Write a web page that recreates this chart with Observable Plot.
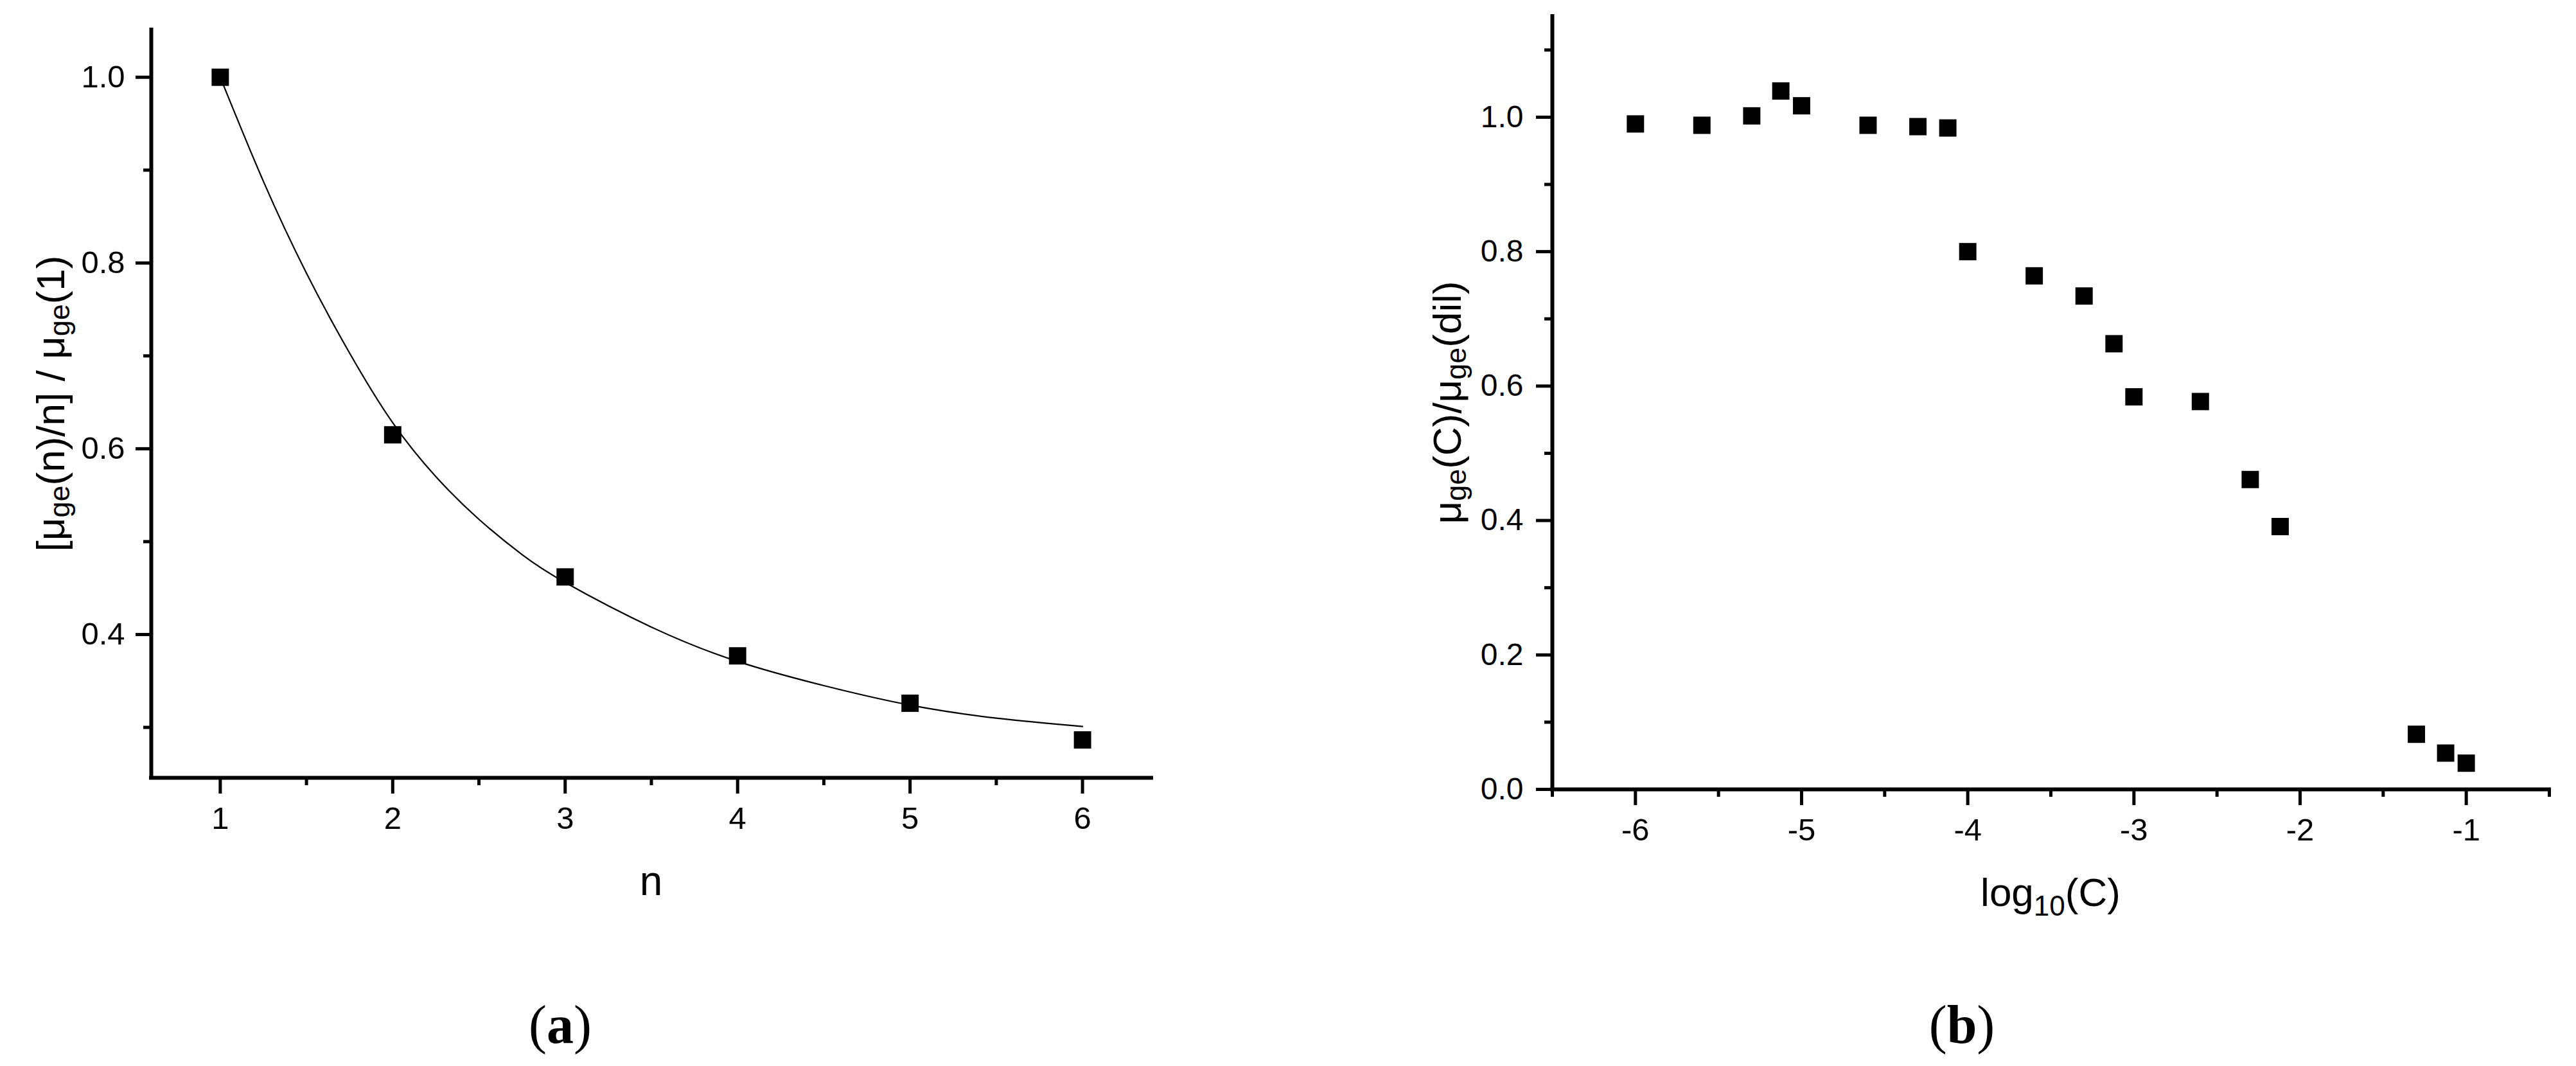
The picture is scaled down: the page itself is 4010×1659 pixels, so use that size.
<!DOCTYPE html>
<html><head><meta charset="utf-8">
<script src="https://cdn.jsdelivr.net/npm/d3@7"></script>
<script src="https://cdn.jsdelivr.net/npm/@observablehq/plot@0.6"></script>
<style>
body{margin:0;background:#fff;}
#wrap{position:relative;width:4010px;height:1659px;background:#fff;}
.panel{position:absolute;top:0;}
.cap{position:absolute;top:1553px;width:400px;text-align:center;font-family:"Liberation Serif","Times New Roman",serif;font-size:84px;line-height:84px;color:#000;}
.cap b{font-weight:bold;}
</style></head><body>
<div id="wrap">
  <div id="left" class="panel" style="left:0px"></div>
  <div id="right" class="panel" style="left:2000px"></div>
  <div class="cap" style="left:672px">(<b>a</b>)</div>
  <div class="cap" style="left:2854px">(<b>b</b>)</div>
</div>
<script>
// ---- Panel (a) data ----
const nValues = [1, 2, 3, 4, 5, 6];
const ratioN = [1.0, 0.615, 0.462, 0.377, 0.326, 0.2865];
// fitted curve
const fitN = [1, 1.25, 1.5, 1.75, 2, 2.25, 2.5, 2.75, 3, 3.5, 4, 4.5, 5, 5.5, 6];
const fitRatio = [1.0, 0.888, 0.789, 0.703, 0.628, 0.570, 0.524, 0.486, 0.456, 0.408, 0.371, 0.345, 0.324, 0.310, 0.301];
const ticksNMajor = [1, 2, 3, 4, 5, 6];
const ticksNMinor = [1.5, 2.5, 3.5, 4.5, 5.5];
const ticksRatioMajor = [0.4, 0.6, 0.8, 1.0];
const ticksRatioMinor = [0.3, 0.5, 0.7, 0.9];

// ---- Panel (b) data ----
const logC = [-6, -5.6, -5.3, -5.125, -5, -4.6, -4.3, -4.12, -4, -3.6, -3.3, -3.12, -3, -2.6, -2.3, -2.12, -1.3, -1.124, -1];
const ratioC = [0.990, 0.988, 1.002, 1.039, 1.017, 0.988, 0.986, 0.984, 0.800, 0.764, 0.734, 0.663, 0.584, 0.577, 0.461, 0.391, 0.082, 0.054, 0.039];
const ticksCMajor = [-6, -5, -4, -3, -2, -1];
const ticksCMinor = [-6.5, -5.5, -4.5, -3.5, -2.5, -1.5, -0.5];
const ticksRCMajor = [0, 0.2, 0.4, 0.6, 0.8, 1.0];
const ticksRCMinor = [0.1, 0.3, 0.5, 0.7, 0.9, 1.1];

const SANS = "'Liberation Sans', Arial, sans-serif";
const points = nValues.map((n, i) => ({n, r: ratioN[i]}));
const fit = fitN.map((n, i) => ({n, r: fitRatio[i]}));
const pointsC = logC.map((c, i) => ({c, r: ratioC[i]}));

function addTitle(svg, x, y, rotate, parts, size, subSize, subShift) {
  const t = d3.select(svg).append("text")
    .attr("transform", `translate(${x},${y}) rotate(${rotate})`)
    .attr("text-anchor", "middle")
    .attr("font-family", SANS)
    .attr("font-size", size)
    .attr("fill", "black");
  let cur = 0;
  for (const [s, sub] of parts) {
    const target = sub ? subShift : 0;
    const ts = t.append("tspan").text(s).attr("dy", target - cur);
    if (sub) ts.attr("font-size", subSize);
    cur = target;
  }
}

// ---- Panel (a) ----
{
  const W = 1900, H = 1450, mL = 235, mR = 108, mT = 46, mB = 240;
  const xd = [0.6, 6.4], yd = [0.2457, 1.051];
  const svg = Plot.plot({
    width: W, height: H,
    marginLeft: mL, marginRight: mR, marginTop: mT, marginBottom: mB,
    style: {fontFamily: SANS, fontSize: "49px", color: "black", background: "white", overflow: "visible"},
    x: {domain: xd, label: null},
    y: {domain: yd, label: null},
    marks: [
      Plot.ruleX([xd[0]], {stroke: "black", strokeWidth: 6, strokeLinecap: "square"}),
      Plot.ruleY([yd[0]], {stroke: "black", strokeWidth: 6, strokeLinecap: "square"}),
      Plot.axisX({ticks: ticksNMajor, tickSize: 25, tickPadding: 20, strokeWidth: 5, tickFormat: d => String(d), label: null, fontSize: 49}),
      Plot.axisX({ticks: ticksNMinor, tickSize: 12, strokeWidth: 5, tickFormat: () => "", label: null}),
      Plot.axisY({ticks: ticksRatioMajor, tickSize: 24, tickPadding: 17, strokeWidth: 5, tickFormat: d3.format(".1f"), label: null, fontSize: 49}),
      Plot.axisY({ticks: ticksRatioMinor, tickSize: 12, strokeWidth: 5, tickFormat: () => "", label: null}),
      Plot.line(fit, {x: "n", y: "r", stroke: "black", strokeWidth: 2.2, curve: "natural"}),
      Plot.dot(points, {x: "n", y: "r", symbol: "square", r: 15.2, fill: "black", stroke: "none"})
    ]
  });
  const cx = (mL + (W - mR)) / 2, cy = (mT + (H - mB)) / 2;
  addTitle(svg, 100, cy, -90, [["[μ"], ["ge", true], ["(n)/n] / μ"], ["ge", true], ["(1)"]], 62, 45, 8);
  addTitle(svg, cx, 1393, 0, [["n"]], 64, 45, 8);
  document.getElementById("left").appendChild(svg);
}

// ---- Panel (b) ----
{
  const W = 2010, H = 1450, mL = 416, mR = 42, mT = 25, mB = 222;
  const xd = [-6.5, -0.5], yd = [0, 1.15];
  const svg = Plot.plot({
    width: W, height: H,
    marginLeft: mL, marginRight: mR, marginTop: mT, marginBottom: mB,
    style: {fontFamily: SANS, fontSize: "48px", color: "black", background: "white", overflow: "visible"},
    x: {domain: xd, label: null},
    y: {domain: yd, label: null},
    marks: [
      Plot.ruleX([xd[0]], {stroke: "black", strokeWidth: 6, strokeLinecap: "square"}),
      Plot.ruleY([yd[0]], {stroke: "black", strokeWidth: 6, strokeLinecap: "square"}),
      Plot.axisX({ticks: ticksCMajor, tickSize: 25, tickPadding: 20, strokeWidth: 5, tickFormat: d => String(d), label: null, fontSize: 49}),
      Plot.axisX({ticks: ticksCMinor, tickSize: 12, strokeWidth: 5, tickFormat: () => "", label: null}),
      Plot.axisY({ticks: ticksRCMajor, tickSize: 25, tickPadding: 20, strokeWidth: 5, tickFormat: d3.format(".1f"), label: null, fontSize: 48}),
      Plot.axisY({ticks: ticksRCMinor, tickSize: 12, strokeWidth: 5, tickFormat: () => "", label: null}),
      Plot.dot(pointsC, {x: "c", y: "r", symbol: "square", r: 15.2, fill: "black", stroke: "none"})
    ]
  });
  const cx = (mL + (W - mR)) / 2, cy = (mT + (H - mB)) / 2;
  addTitle(svg, 274, cy, -90, [["μ"], ["ge", true], ["(C)/μ"], ["ge", true], ["(dil)"]], 62, 45, 8);
  addTitle(svg, cx, 1410, 0, [["log"], ["10", true], ["(C)"]], 62, 44, 15);
  document.getElementById("right").appendChild(svg);
}
</script>
</body></html>
